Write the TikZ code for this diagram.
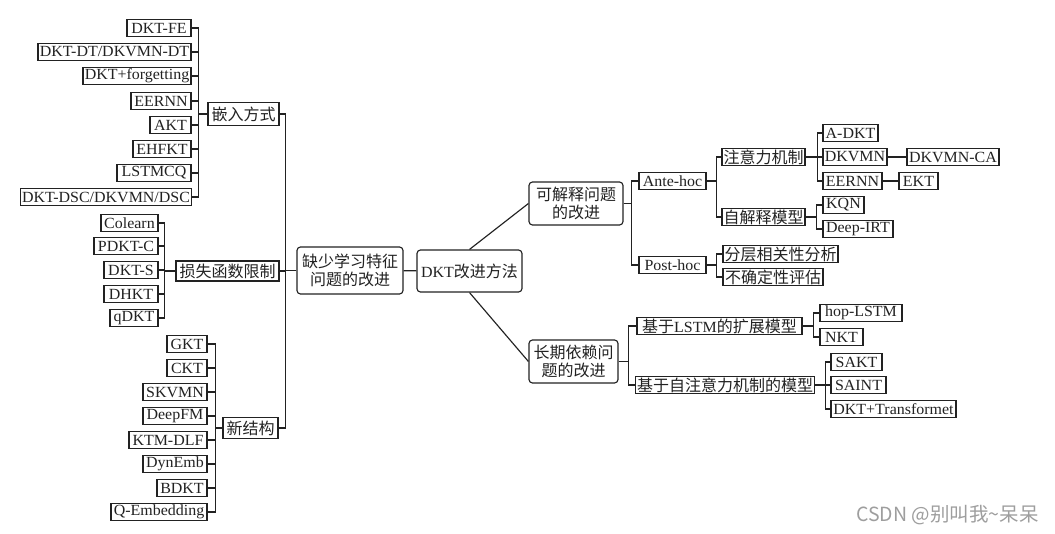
\documentclass[tikz,border=0pt]{standalone}
\usepackage{fontspec}
\setmainfont{Liberation Serif}[FakeStretch=1.03]
\newfontfamily\cjk{Noto Sans CJK SC}
\newcommand\zh[1]{{\cjk\fontsize{16}{18}\selectfont #1}}
\definecolor{ink}{HTML}{222222}
\begin{document}
\begin{tikzpicture}[x=1pt,y=-1pt,
  every node/.style={font=\fontsize{15.5}{17}\selectfont, text=ink},
  bx/.style={draw=ink, line width=1.15pt, fill=white, inner xsep=1.5pt, inner ysep=0pt,
    minimum height=17.5pt, minimum width=#1},
  rbx/.style={bx=#1, rounded corners=3.5pt, align=center,
    font=\cjk\fontsize{16}{18.5}\selectfont},
  ln/.style={draw=ink, line width=1.15pt}]
\fill[white] (0,0) rectangle (1055,534);
\useasboundingbox (0,0) rectangle (1055,534);
% ---- left group 1
\node[bx=64] (fe) at (159,28) {DKT-FE};
\node[bx=153] (dt) at (114.5,52) {DKT-DT/DKVMN-DT};
\node[bx=108] (fg) at (137,76) {DKT+forgetting};
\node[bx=60] (eea) at (161,101) {EERNN};
\node[bx=41] (akt) at (170.5,125) {AKT};
\node[bx=58] (eh) at (162,149) {EHFKT};
\node[bx=74] (ls) at (154,173) {LSTMCQ};
\node[bx=170] (dsc) at (106,197) {DKT-DSC/DKVMN/DSC};
\node[bx=71, minimum height=23pt] (emb) at (243.5,114) {\zh{嵌入方式}};
% ---- left group 2
\node[bx=57] (co) at (129.5,223) {Colearn};
\node[bx=64] (pd) at (126,246) {PDKT-C};
\node[bx=54] (ds) at (131,270) {DKT-S};
\node[bx=54] (dh) at (131,294) {DHKT};
\node[bx=48] (qd) at (134,318) {qDKT};
\node[bx=103, minimum height=20pt] (loss) at (227.5,271) {\zh{损失函数限制}};
% ---- left group 3
\node[bx=40] (gkt) at (187,344) {GKT};
\node[bx=40] (ckt) at (187,368) {CKT};
\node[bx=64] (skv) at (175,392) {SKVMN};
\node[bx=64] (dfm) at (175,416) {DeepFM};
\node[bx=78] (ktm) at (168,440) {KTM-DLF};
\node[bx=64] (dyn) at (175,464) {DynEmb};
\node[bx=50] (bdkt) at (182,488) {BDKT};
\node[bx=96] (qemb) at (159,512) {Q-Embedding};
\node[bx=55, minimum height=21pt] (xjg) at (250.5,428) {\zh{新结构}};
% ---- center
\node[rbx=106, minimum height=47pt] (que) at (350,270.5) {缺少学习特征\\问题的改进};
\node[bx=105, minimum height=42pt, rounded corners=3.5pt] (dkt) at (469.5,271) {DKT\zh{改进方法}};
\node[rbx=94, minimum height=43pt] (kj) at (576,203.5) {可解释问题\\的改进};
\node[rbx=89, minimum height=43pt] (cq) at (573.5,361.5) {长期依赖问\\题的改进};
% ---- right upper
\node[bx=67] (ante) at (672.5,181) {Ante-hoc};
\node[bx=67] (post) at (672.5,265) {Post-hoc};
\node[bx=81] (zy) at (763.5,157) {\zh{注意力机制}};
\node[bx=81] (zj) at (763.5,217) {\zh{自解释模型}};
\node[bx=55] (adkt) at (850.5,133) {A-DKT};
\node[bx=64] (dkv) at (855,157) {DKVMN};
\node[bx=59] (eeb) at (852.5,181) {EERNN};
\node[bx=92] (dkvca) at (953,157) {DKVMN-CA};
\node[bx=39] (ekt) at (918.5,181) {EKT};
\node[bx=41] (kqn) at (843.5,205) {KQN};
\node[bx=70] (dirt) at (858,229) {Deep-IRT};
\node[bx=115] (fc) at (780.5,254) {\zh{分层相关性分析}};
\node[bx=100] (bq) at (773,277) {\zh{不确定性评估}};
% ---- right lower
\node[bx=165] (lstm) at (719.5,326) {\zh{基于}LSTM\zh{的扩展模型}};
\node[bx=176] (sa) at (725,385) {\zh{基于自注意力机制的模型}};
\node[bx=82] (hop) at (861,313) {hop-LSTM};
\node[bx=43] (nkt) at (841.5,337) {NKT};
\node[bx=51] (sakt) at (856.5,362) {SAKT};
\node[bx=55] (saint) at (858.5,385) {SAINT};
\node[bx=125] (trans) at (893.5,409) {DKT+Transformet};
% ---- watermark
\node[font=\cjk\fontsize{19.5}{22}\selectfont, text=black!38] (wm) at (947.5,515) {CSDN @别叫我\textasciitilde 呆呆};
% ---- connectors
\foreach \c in {fe,dt,fg,eea,akt,eh,ls,dsc} \draw[ln] (emb.west) -- ++(-9,0) |- (\c.east);
\foreach \c in {co,pd,ds,dh,qd} \draw[ln] (loss.west) -- ++(-11,0) |- (\c.east);
\foreach \c in {gkt,ckt,skv,dfm,ktm,dyn,bdkt,qemb} \draw[ln] (xjg.west) -- ++(-7,0) |- (\c.east);
\foreach \c in {emb,loss,xjg} \draw[ln] (que.west) -- ++(-11,0) |- (\c.east);
\draw[ln] (que) -- (dkt);
\draw[ln] (dkt.north) -- (kj.west);
\draw[ln] (dkt.south) -- (cq.west);
\foreach \c in {ante,post} \draw[ln] (kj.east) -- ++(8,0) |- (\c.west);
\foreach \c in {zy,zj} \draw[ln] (ante.east) -- ++(10,0) |- (\c.west);
\foreach \c in {fc,bq} \draw[ln] (post.east) -- ++(10,0) |- (\c.west);
\foreach \c in {adkt,dkv,eeb} \draw[ln] (zy.east) -- ++(12,0) |- (\c.west);
\draw[ln] (dkv) -- (dkvca);
\draw[ln] (eeb) -- (ekt);
\foreach \c in {kqn,dirt} \draw[ln] (zj.east) -- ++(11,0) |- (\c.west);
\foreach \c in {lstm,sa} \draw[ln] (cq.east) -- ++(10,0) |- (\c.west);
\foreach \c in {hop,nkt} \draw[ln] (lstm.east) -- ++(11,0) |- (\c.west);
\foreach \c in {sakt,saint,trans} \draw[ln] (sa.east) -- ++(10,0) |- (\c.west);
\end{tikzpicture}
\end{document}
